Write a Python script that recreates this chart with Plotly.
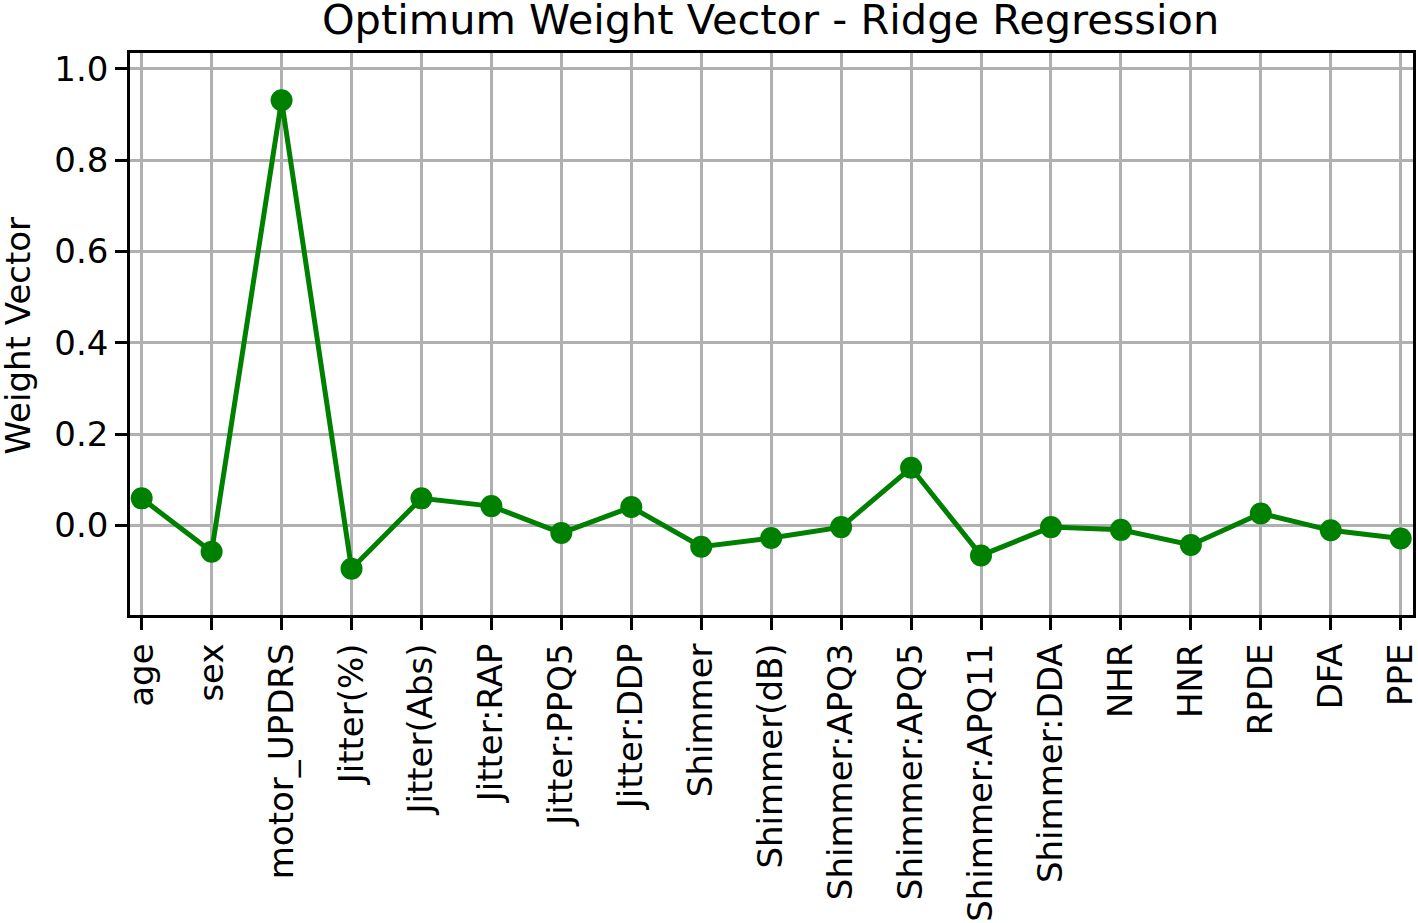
"""Optimum weight vector from ridge regression, one weight per feature."""

import plotly.graph_objects as go

features = [
    "age", "sex", "motor_UPDRS", "Jitter(%)", "Jitter(Abs)", "Jitter:RAP",
    "Jitter:PPQ5", "Jitter:DDP", "Shimmer", "Shimmer(dB)", "Shimmer:APQ3",
    "Shimmer:APQ5", "Shimmer:APQ11", "Shimmer:DDA", "NHR", "HNR", "RPDE",
    "DFA", "PPE",
]
weights = [
    0.059, -0.058, 0.931, -0.095, 0.059, 0.042,
    -0.017, 0.040, -0.047, -0.028, -0.004,
    0.126, -0.066, -0.004, -0.010, -0.043, 0.026,
    -0.011, -0.029,
]
y_ticks = [0.0, 0.2, 0.4, 0.6, 0.8, 1.0]

font_family = "DejaVu Sans"
tick_size = 34

axis_style = dict(
    showline=True,
    mirror=True,
    linecolor="black",
    linewidth=2.7,
    ticks="outside",
    ticklen=12,
    tickwidth=2.7,
    tickcolor="black",
    showgrid=True,
    gridcolor="#b0b0b0",
    gridwidth=2.7,
    zeroline=False,
    automargin=False,
)

fig = go.Figure()
fig.add_trace(
    go.Scatter(
        x=features,
        y=weights,
        mode="lines+markers",
        line=dict(color="green", width=5),
        marker=dict(color="green", size=22),
        showlegend=False,
    )
)

fig.update_layout(
    width=1418,
    height=923,
    autosize=False,
    margin=dict(l=130, r=5, t=53, b=308),
    paper_bgcolor="white",
    plot_bgcolor="white",
    font=dict(family=font_family, size=tick_size, color="black"),
    title=dict(
        text="Optimum Weight Vector - Ridge Regression",
        x=0.5434,
        xref="container",
        xanchor="center",
        y=0.979,
        yref="container",
        yanchor="middle",
        font=dict(size=41.5, color="black"),
    ),
)

# y-axis label placed as an annotation so it sits where the reference has it
fig.add_annotation(
    text="Weight Vector",
    xref="paper",
    yref="paper",
    x=-0.087,
    y=0.498,
    xanchor="center",
    yanchor="middle",
    textangle=-90,
    showarrow=False,
    font=dict(size=tick_size, color="black"),
)

fig.update_xaxes(
    type="category",
    range=[-0.167, 18.176],
    tickangle=-90,
    **axis_style,
)

fig.update_yaxes(
    range=[-0.1965, 1.0346],
    tickvals=y_ticks,
    tickformat=".1f",
    **axis_style,
)

# drop the browser's default body margin so the figure fills the window exactly
fig.write_html(
    "out.html",
    config={"displayModeBar": False},
    post_script="document.body.style.margin='0';document.body.style.overflow='hidden';",
)
